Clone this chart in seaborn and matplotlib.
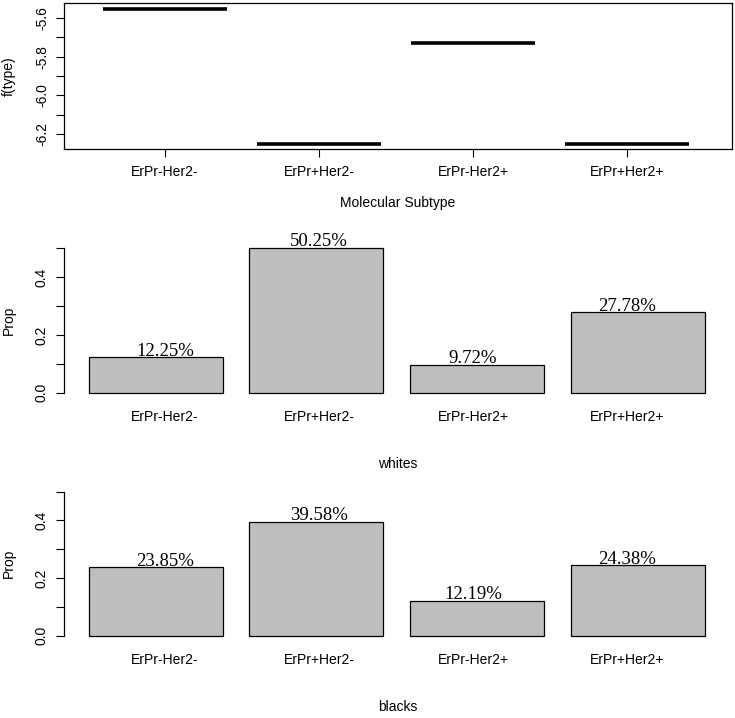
import matplotlib
matplotlib.use("Agg")
import matplotlib.pyplot as plt
import numpy as np
import pandas as pd
import seaborn as sns
from matplotlib.ticker import FixedLocator

subtypes = ["ErPr-Her2-", "ErPr+Her2-", "ErPr-Her2+", "ErPr+Her2+"]
f_type = [-5.553, -6.252, -5.730, -6.252]
whites = [0.1225, 0.5025, 0.0972, 0.2778]
blacks = [0.2385, 0.3958, 0.1219, 0.2438]
whites_pct = ["12.25%", "50.25%", "9.72%", "27.78%"]
blacks_pct = ["23.85%", "39.58%", "12.19%", "24.38%"]

sns.set_style("white")
plt.rcParams["font.family"] = ["Liberation Sans", "DejaVu Sans"]
plt.rcParams["axes.unicode_minus"] = False
plt.rcParams["text.color"] = "black"
plt.rcParams["axes.labelcolor"] = "black"

W, H = 735, 718
SANS = 10
SERIF = ["Liberation Serif", "DejaVu Serif"]
BAR_GREY = "#BEBEBE"


def frac(left, top, right, bottom):
    # pixel box -> figure fraction rect
    return [left / W, 1 - bottom / H, (right - left) / W, (bottom - top) / H]


def style_yaxis(ax):
    ax.tick_params(axis="y", which="both", direction="out", length=5.8, width=0.8,
                   pad=5.0, labelsize=SANS, colors="black", left=True)
    for lab in ax.get_yticklabels():
        lab.set_rotation(90)
        lab.set_va("center")


fig = plt.figure(figsize=(W / 100, H / 100), dpi=100)

# ---- top: term plot of f(type)
ax1 = fig.add_axes(frac(64, 3, 732, 149))
df_top = pd.DataFrame({"type": subtypes, "f": f_type})
sns.boxplot(data=df_top, x="type", y="f", width=0.8, color="white", linecolor="black",
            whis=0, showcaps=False, showfliers=False,
            boxprops=dict(linewidth=0),
            whiskerprops=dict(linewidth=0),
            medianprops=dict(color="black", linewidth=2.6, solid_capstyle="butt"),
            ax=ax1)
ax1.set_xlim(-0.656, 3.682)
ax1.set_ylim(-6.278, -5.522)
ax1.yaxis.set_major_locator(FixedLocator([-6.2, -6.0, -5.8, -5.6]))
ax1.yaxis.set_minor_locator(FixedLocator([-6.1, -5.9, -5.7]))
ax1.set_yticklabels(["-6.2", "-6.0", "-5.8", "-5.6"])
ax1.tick_params(axis="x", direction="out", length=5.8, width=0.8, pad=5.5,
                labelsize=SANS, colors="black", bottom=True)
style_yaxis(ax1)
for s in ax1.spines.values():
    s.set_color("black")
    s.set_linewidth(0.9)
ax1.set_xlabel("Molecular Subtype", fontsize=SANS)
ax1.set_ylabel("f(type)", fontsize=SANS)
ax1.xaxis.set_label_coords(0.5, -0.325)
ax1.yaxis.set_label_coords(-0.072, 0.5)

# ---- bar panels
label_pos = 0.058 + 0.959 * np.arange(len(subtypes))


def bar_panel(rect, values, pct, xlab):
    ax = fig.add_axes(rect)
    sns.barplot(x=subtypes, y=values, color=BAR_GREY, saturation=1, width=0.834,
                edgecolor="black", linewidth=0.9, ax=ax)
    ax.set_xlim(-0.571, 3.588)
    ax.set_ylim(-0.02, 0.52)
    ax.set_xticks(label_pos)
    ax.set_xticklabels(subtypes)
    ax.tick_params(axis="x", length=0, pad=8.0, labelsize=SANS, colors="black")
    ax.yaxis.set_major_locator(FixedLocator([0.0, 0.2, 0.4]))
    ax.yaxis.set_minor_locator(FixedLocator([0.1, 0.3, 0.5]))
    ax.set_yticklabels(["0.0", "0.2", "0.4"])
    style_yaxis(ax)
    for side in ["top", "right", "bottom"]:
        ax.spines[side].set_visible(False)
    ax.spines["left"].set_bounds(0, 0.5)
    ax.spines["left"].set_color("black")
    ax.spines["left"].set_linewidth(0.9)
    for xp, v, t in zip(label_pos, values, pct):
        ax.annotate(t, (xp, v), xytext=(0, 1.0), textcoords="offset points",
                    ha="center", va="baseline", fontsize=13.5, family=SERIF,
                    color="black")
    ax.set_xlabel(xlab, fontsize=SANS)
    ax.set_ylabel("Prop", fontsize=SANS)
    ax.xaxis.set_label_coords(0.5, -0.375)
    ax.yaxis.set_label_coords(-0.072, 0.5)
    return ax


bar_panel(frac(64, 242.5, 732, 398.5), whites, whites_pct, "whites")
bar_panel(frac(64, 485.9, 732, 641.5), blacks, blacks_pct, "blacks")

fig.savefig("out.png", dpi=100)
